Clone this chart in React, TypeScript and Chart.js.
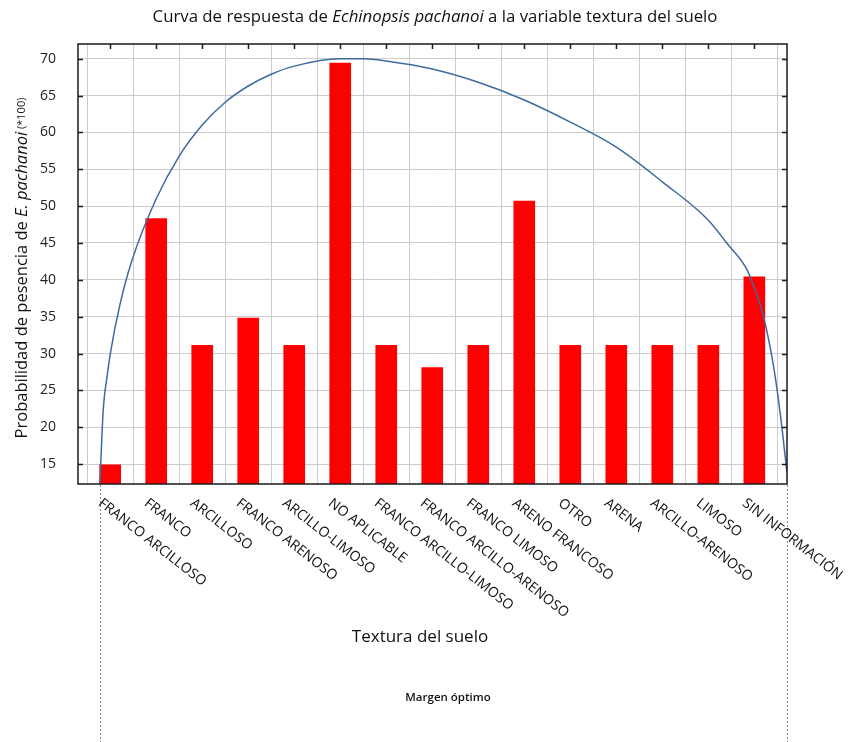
import React, { useEffect, useRef } from 'react';
import { Chart, registerables } from 'chart.js';

Chart.register(...registerables);

const categories = [
  'FRANCO ARCILLOSO',
  'FRANCO',
  'ARCILLOSO',
  'FRANCO ARENOSO',
  'ARCILLO-LIMOSO',
  'NO APLICABLE',
  'FRANCO ARCILLO-LIMOSO',
  'FRANCO ARCILLO-ARENOSO',
  'FRANCO LIMOSO',
  'ARENO FRANCOSO',
  'OTRO',
  'ARENA',
  'ARCILLO-ARENOSO',
  'LIMOSO',
  'SIN INFORMACIÓN',
];

const barValues = [14.9, 48.3, 31.1, 34.8, 31.1, 69.4, 31.1, 28.1, 31.1, 50.7, 31.1, 31.1, 31.1, 31.1, 40.4];

// response curve (x in category units)
const curveX = [-0.225, -0.2, -0.15, -0.07, 0, 0.21, 0.46, 1, 1.5, 2, 2.5, 3, 3.5, 4, 5, 5.5, 6, 7, 8, 9, 10, 11, 12, 13, 13.4, 13.84, 14, 14.2, 14.42, 14.57, 14.71];
const curveY = [12.3, 16.0, 22.5, 26.8, 29.9, 36.6, 42.4, 51.0, 56.8, 61.0, 64.1, 66.3, 67.9, 69.0, 70.0, 70.0, 69.7, 68.6, 66.8, 64.4, 61.4, 58.0, 53.3, 48.1, 45.0, 41.4, 38.9, 35.0, 28.2, 21.5, 13.8];

const yTickValues = [15, 20, 25, 30, 35, 40, 45, 50, 55, 60, 65, 70];
const marginBounds = [-0.22, 14.71];
const yRange = [12.3, 72.0];
const xRange = [-0.7, 14.71];

const titleParts = [
  { text: 'Curva de respuesta de ', italic: false },
  { text: 'Echinopsis pachanoi', italic: true },
  { text: ' a la variable textura del suelo', italic: false },
];
const yTitleParts = [
  { text: 'Probabilidad de pesencia de ', italic: false, small: false },
  { text: 'E. pachanoi', italic: true, small: false },
  { text: ' (*100)', italic: false, small: true },
];
const xTitle = 'Textura del suelo';
const marginLabel = 'Margen óptimo';

const FONT = '"Open Sans", "Noto Sans", sans-serif';

type Part = { text: string; italic: boolean; small?: boolean };

function drawParts(ctx: CanvasRenderingContext2D, parts: Part[], cx: number, cy: number, size: number, smallSize: number, weight = 400) {
  const fontOf = (p: Part) => `${p.italic ? 'italic ' : ''}${weight} ${p.small ? smallSize : size}px ${FONT}`;
  let total = 0;
  const widths = parts.map((p) => {
    ctx.font = fontOf(p);
    const w = ctx.measureText(p.text).width;
    total += w;
    return w;
  });
  let x = cx - total / 2;
  ctx.textAlign = 'left';
  ctx.textBaseline = 'middle';
  parts.forEach((p, i) => {
    ctx.font = fontOf(p);
    ctx.fillText(p.text, x, cy);
    x += widths[i];
  });
}

const decorPlugin = {
  id: 'decor',
  afterDraw(chart: any) {
    const ctx: CanvasRenderingContext2D = chart.ctx;
    const { left, right, top, bottom } = chart.chartArea;
    const xs = chart.scales.x;
    const ys = chart.scales.y;
    ctx.save();

    // frame
    ctx.strokeStyle = '#1a1a1a';
    ctx.lineWidth = 1.5;
    ctx.strokeRect(left, top, right - left, bottom - top);

    // inward tick marks
    ctx.lineWidth = 1.5;
    ctx.beginPath();
    categories.forEach((_, i) => {
      const px = Math.round(xs.getPixelForValue(i)) + 0.5;
      ctx.moveTo(px, top);
      ctx.lineTo(px, top + 5);
    });
    yTickValues.forEach((v) => {
      const py = Math.round(ys.getPixelForValue(v)) + 0.5;
      ctx.moveTo(left, py);
      ctx.lineTo(left + 5, py);
      ctx.moveTo(right, py);
      ctx.lineTo(right - 5, py);
    });
    ctx.stroke();

    // optimum margin dotted lines
    ctx.strokeStyle = '#8a8a8a';
    ctx.lineWidth = 1;
    ctx.setLineDash([2, 2]);
    ctx.beginPath();
    marginBounds.forEach((b) => {
      const px = Math.round(xs.getPixelForValue(b)) + 0.5;
      ctx.moveTo(px, bottom + 1);
      ctx.lineTo(px, chart.height);
    });
    ctx.stroke();
    ctx.setLineDash([]);

    // rotated category labels
    ctx.fillStyle = '#111';
    ctx.font = `14px ${FONT}`;
    ctx.textAlign = 'left';
    ctx.textBaseline = 'top';
    categories.forEach((c, i) => {
      const px = xs.getPixelForValue(i);
      ctx.save();
      ctx.translate(px - 6, bottom + 12);
      ctx.rotate((38 * Math.PI) / 180);
      ctx.fillText(c, 0, 0);
      ctx.restore();
    });

    // title
    ctx.fillStyle = '#111';
    drawParts(ctx, titleParts, 435, 17, 16.8, 16.8, 500);

    // y axis title
    ctx.save();
    ctx.translate(22, (top + bottom) / 2 + 4);
    ctx.rotate(-Math.PI / 2);
    drawParts(ctx, yTitleParts, 0, 0, 16.5, 11);
    ctx.restore();

    // x axis title
    ctx.font = `17px ${FONT}`;
    ctx.textAlign = 'center';
    ctx.textBaseline = 'middle';
    ctx.fillText(xTitle, 420, 637);

    ctx.font = `600 11.5px ${FONT}`;
    ctx.fillText(marginLabel, 448, 698);

    ctx.restore();
  },
};

export default function App() {
  const ref = useRef<HTMLCanvasElement | null>(null);
  useEffect(() => {
    if (!ref.current) return;
    const chart = new Chart(ref.current, {
      type: 'bar',
      data: {
        datasets: [
          {
            type: 'line',
            data: curveX.map((x, i) => ({ x, y: curveY[i] })),
            borderColor: '#3d6aa2',
            borderWidth: 1.5,
            pointRadius: 0,
            fill: false,
            cubicInterpolationMode: 'monotone',
            order: 1,
          } as any,
          {
            type: 'bar',
            data: barValues.map((y, i) => ({ x: i, y })),
            backgroundColor: '#ff0000',
            barThickness: 21,
            order: 2,
          } as any,
        ],
      },
      options: {
        responsive: true,
        maintainAspectRatio: false,
        animation: false,
        layout: { padding: { left: 0, right: 69, top: 44, bottom: 0 } },
        plugins: {
          legend: { display: false },
          tooltip: { enabled: false },
          title: { display: false },
        },
        scales: {
          x: {
            type: 'linear',
            min: xRange[0],
            max: xRange[1],
            offset: false,
            grid: { color: '#cccccc', lineWidth: 1, drawTicks: false },
            border: { display: false },
            ticks: { display: false },
            afterBuildTicks: (s: any) => {
              s.ticks = categories.map((_, i) => ({ value: i }));
            },
            afterFit: (s: any) => {
              s.height = 258;
            },
          },
          y: {
            type: 'linear',
            min: yRange[0],
            max: yRange[1],
            grid: { color: '#cccccc', lineWidth: 1, drawTicks: false },
            border: { display: false },
            ticks: { padding: 22, color: '#222', font: { family: FONT, size: 14 } },
            afterBuildTicks: (s: any) => {
              s.ticks = yTickValues.map((v) => ({ value: v }));
            },
            afterFit: (s: any) => {
              s.width = 78;
            },
          },
        },
      } as any,
      plugins: [decorPlugin],
    });
    return () => chart.destroy();
  }, []);
  return (
    <div style={{ position: 'absolute', left: 0, top: 0, width: 856, height: 742, background: '#fff' }}>
      <canvas ref={ref} />
    </div>
  );
}
